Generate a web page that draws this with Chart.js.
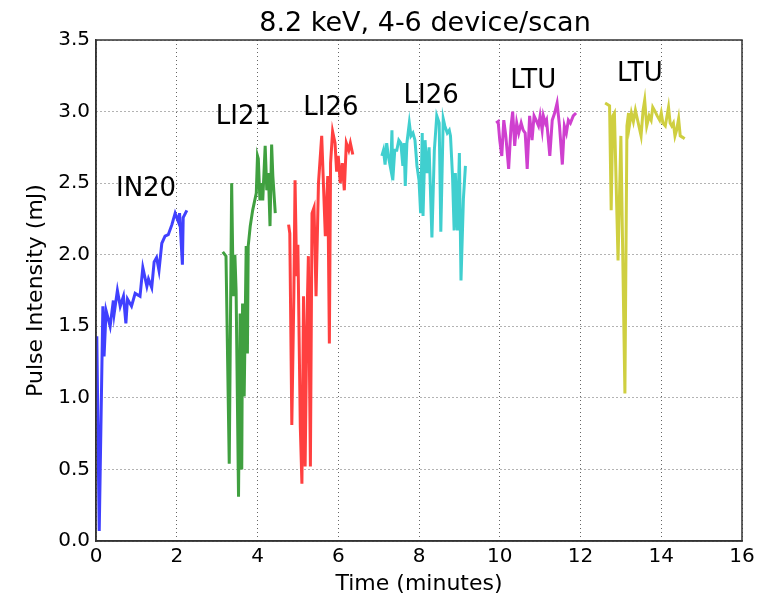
<!DOCTYPE html>
<html>
<head>
<meta charset="utf-8">
<title>8.2 keV, 4-6 device/scan</title>
<script src="https://cdn.jsdelivr.net/npm/chart.js@4.4.0/dist/chart.umd.min.js"></script>
<style>
  html, body { margin: 0; padding: 0; background: #fff; }
  #wrap { width: 774px; height: 598px; }
</style>
</head>
<body>
<div id="wrap"><canvas id="line-chartcanvas" width="774" height="598"></canvas></div>
<script>
// time in minutes, pulse intensity in mJ, one pair of arrays per scan
var in20Time = [0.02,0.08,0.17,0.2,0.25,0.35,0.43,0.45,0.53,0.6,0.68,0.74,0.78,0.88,0.97,1.09,1.16,1.26,1.3,1.38,1.44,1.5,1.56,1.63,1.71,1.79,1.88,1.96,2.04,2.07,2.14,2.16,2.25];
var in20Pulse = [1.43,0.07,1.64,1.29,1.61,1.5,1.68,1.59,1.75,1.64,1.71,1.52,1.69,1.64,1.73,1.71,1.91,1.78,1.83,1.77,1.95,1.98,1.89,2.08,2.13,2.14,2.21,2.29,2.23,2.29,1.93,2.26,2.31];

var li21Time = [3.14,3.22,3.30,3.36,3.40,3.44,3.47,3.53,3.57,3.61,3.63,3.67,3.72,3.75,3.77,3.82,3.88,3.97,4.0,4.02,4.06,4.1,4.13,4.19,4.23,4.27,4.31,4.35,4.38,4.44];
var li21Pulse = [2.02,1.99,0.54,2.5,1.71,2.0,1.75,0.31,1.59,0.5,1.66,1.01,2.06,1.31,2.06,2.2,2.31,2.43,2.69,2.67,2.38,2.5,2.38,2.76,2.45,2.57,2.2,2.77,2.55,2.29];

var li26aTime = [4.77,4.8,4.85,4.9,4.93,4.97,5.0,5.06,5.1,5.14,5.18,5.22,5.26,5.31,5.35,5.4,5.45,5.51,5.59,5.68,5.74,5.78,5.81,5.86,5.92,5.96,6.0,6.05,6.1,6.15,6.2,6.26,6.3,6.36];
var li26aPulse = [2.21,2.15,0.81,1.71,2.52,1.85,2.07,0.8,0.4,1.71,0.52,1.47,1.99,0.52,2.29,2.33,1.71,2.5,2.83,2.13,2.55,1.38,2.64,2.86,2.78,2.58,2.69,2.5,2.64,2.45,2.78,2.73,2.78,2.7];

var li26bTime = [7.08,7.12,7.16,7.2,7.24,7.3,7.33,7.35,7.4,7.45,7.5,7.55,7.6,7.63,7.66,7.7,7.76,7.8,7.85,7.9,7.95,8.0,8.04,8.08,8.1,8.15,8.2,8.25,8.32,8.38,8.44,8.5,8.54,8.6,8.64,8.7,8.75,8.78,8.83,8.87,8.9,8.95,9.0,9.04,9.1,9.15];
var li26bPulse = [2.69,2.73,2.63,2.78,2.69,2.6,2.87,2.52,2.73,2.73,2.8,2.78,2.62,2.78,2.48,2.78,2.92,2.83,2.85,2.8,2.62,2.52,2.29,2.85,2.27,2.8,2.57,2.75,2.12,2.73,2.97,2.92,2.16,2.95,2.9,2.85,2.87,2.83,2.55,2.17,2.57,2.17,2.71,1.82,2.39,2.62];

var ltuaTime = [9.91,9.96,10.0,10.05,10.1,10.15,10.22,10.28,10.32,10.37,10.42,10.47,10.53,10.58,10.63,10.68,10.74,10.8,10.85,10.9,10.96,11.0,11.05,11.08,11.13,11.16,11.24,11.3,11.36,11.42,11.48,11.55,11.6,11.65,11.7,11.75,11.82,11.89];
var ltuaPulse = [2.92,2.93,2.8,2.69,2.94,2.83,2.6,2.9,3.0,2.76,2.92,2.85,2.92,2.87,2.85,2.6,2.97,2.8,2.97,2.94,2.9,2.97,2.87,2.97,2.92,2.94,2.69,2.94,2.99,3.06,2.9,2.63,2.9,2.85,2.94,2.92,2.97,2.99];

var ltubTime = [12.61,12.67,12.72,12.76,12.8,12.84,12.93,13.0,13.1,13.15,13.19,13.21,13.26,13.31,13.36,13.43,13.5,13.55,13.59,13.64,13.7,13.75,13.79,13.85,13.9,13.96,14.0,14.04,14.1,14.18,14.22,14.26,14.3,14.34,14.38,14.43,14.47,14.53,14.58];
var ltubPulse = [3.06,3.05,3.04,2.31,2.97,2.99,1.96,2.83,1.03,2.9,2.99,2.9,2.99,2.93,3.01,2.92,2.83,3.01,3.08,2.9,2.97,2.94,3.03,3.0,2.97,2.94,2.99,2.92,2.9,3.03,2.92,2.9,2.92,2.83,2.87,2.95,2.83,2.82,2.81];

// device labels written over each scan (data coordinates)
var labelText = ["IN20","LI21","LI26","LI26","LTU","LTU"];
var labelTime = [1.24,3.65,5.82,8.3,10.83,13.47];
var labelPulse = [2.46,2.96,3.02,3.11,3.21,3.26];

var xTicks = [0,2,4,6,8,10,12,14,16];
var yTicks = [0.0,0.5,1.0,1.5,2.0,2.5,3.0,3.5];

function toPoints(t, p) {
    var pts = [];
    for (var i = 0; i < t.length; i++) {
        pts.push({x: t[i], y: p[i]});
    }
    return pts;
}

function series(t, p, color) {
    return {
        data: toPoints(t, p),
        borderColor: color,
        backgroundColor: color,
        borderWidth: 3,
        pointRadius: 0,
        tension: 0,
        fill: false
    };
}

var font = "'DejaVu Sans', 'Liberation Sans', sans-serif";

var decorations = {
    id: "decorations",
    afterDatasetsDraw: function(chart) {
        var ctx = chart.ctx;
        var area = chart.chartArea;
        var xs = chart.scales.x;
        var ys = chart.scales.y;
        ctx.save();
        // frame around the plot
        ctx.strokeStyle = "#333";
        ctx.lineWidth = 1.5;
        ctx.strokeRect(area.left, area.top, area.right - area.left, area.bottom - area.top);
        // device labels
        ctx.fillStyle = "#000";
        ctx.font = "26px " + font;
        ctx.textAlign = "center";
        ctx.textBaseline = "middle";
        for (var i = 0; i < labelText.length; i++) {
            ctx.fillText(labelText[i], xs.getPixelForValue(labelTime[i]), ys.getPixelForValue(labelPulse[i]));
        }
        // title
        ctx.font = "27px " + font;
        ctx.textBaseline = "alphabetic";
        ctx.fillText("8.2 keV, 4-6 device/scan", (area.left + area.right) / 2 + 6, 31);
        ctx.restore();
    }
};

var chart = new Chart(document.getElementById("line-chartcanvas"), {
    type: "line",
    data: {
        datasets: [
            series(in20Time, in20Pulse, "#4040ff"),
            series(li21Time, li21Pulse, "#40a040"),
            series(li26aTime, li26aPulse, "#ff4040"),
            series(li26bTime, li26bPulse, "#40cfcf"),
            series(ltuaTime, ltuaPulse, "#cf40cf"),
            series(ltubTime, ltubPulse, "#cfcf40")
        ]
    },
    options: {
        responsive: false,
        animation: false,
        layout: { padding: { top: 40, right: 32, bottom: 0, left: 0 } },
        plugins: {
            legend: { display: false },
            tooltip: { enabled: false },
            title: { display: false }
        },
        scales: {
            x: {
                type: "linear",
                min: 0,
                max: 16,
                afterFit: function(scale) { scale.height = 57; },
                afterBuildTicks: function(scale) {
                    scale.ticks = xTicks.map(function(v) { return {value: v}; });
                },
                ticks: {
                    color: "#000",
                    font: { family: font, size: 20 },
                    padding: 4,
                    maxRotation: 0
                },
                grid: {
                    color: "rgba(0,0,0,0.6)",
                    lineWidth: 1,
                    drawTicks: false
                },
                border: { display: true, color: "#333", width: 1.5, dash: [1, 3] },
                title: {
                    display: true,
                    text: "Time (minutes)",
                    color: "#000",
                    font: { family: font, size: 22 },
                    padding: { top: 0, bottom: 1 }
                }
            },
            y: {
                min: 0,
                max: 3.5,
                afterFit: function(scale) { scale.width = 96; },
                afterBuildTicks: function(scale) {
                    scale.ticks = yTicks.map(function(v) { return {value: v}; });
                },
                ticks: {
                    color: "#000",
                    font: { family: font, size: 20 },
                    padding: 6,
                    callback: function(v) { return Number(v).toFixed(1); }
                },
                grid: {
                    color: "rgba(0,0,0,0.6)",
                    lineWidth: 1,
                    drawTicks: false
                },
                border: { display: true, color: "#333", width: 1.5, dash: [1, 3] },
                title: {
                    display: true,
                    text: "Pulse Intensity (mJ)",
                    color: "#000",
                    font: { family: font, size: 22 },
                    padding: { top: 23, bottom: 0 }
                }
            }
        }
    },
    plugins: [decorations]
});
</script>
</body>
</html>
